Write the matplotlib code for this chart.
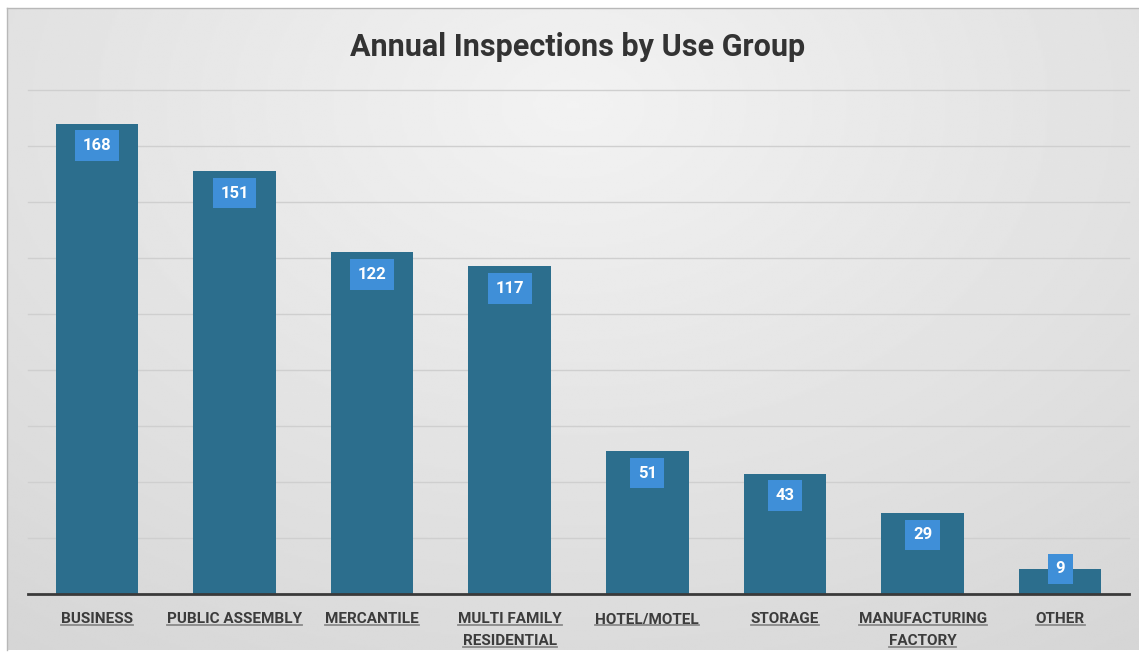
import matplotlib.pyplot as plt
import numpy as np
from matplotlib.lines import Line2D

categories = ["BUSINESS", "PUBLIC ASSEMBLY", "MERCANTILE", "MULTI FAMILY\nRESIDENTIAL",
              "HOTEL/MOTEL", "STORAGE", "MANUFACTURING\nFACTORY", "OTHER"]
inspections = [168, 151, 122, 117, 51, 43, 29, 9]
y_ticks = list(range(0, 181, 20))

W, H = 1139, 655
fig = plt.figure(figsize=(W / 100, H / 100), dpi=100)
fig.patch.set_facecolor("white")

# soft grey panel behind the chart, lighter towards the top middle
bg = fig.add_axes([7 / W, 5 / H, 1 - 7 / W, 1 - 13 / H])
yy, xx = np.mgrid[0:1:300j, 0:1:500j]
d = np.sqrt(((xx - 0.5) * 1.1) ** 2 + ((yy - 0.15) * 0.9) ** 2)
shade = 0.95 - 0.12 * d
bg.imshow(shade, cmap="gray", vmin=0, vmax=1, aspect="auto", extent=[0, 1, 0, 1], origin="upper")
bg.set_xticks([])
bg.set_yticks([])
for side, sp in bg.spines.items():
    sp.set_color("#b8b8b8")
    sp.set_linewidth(1)
    if side in ("right", "bottom"):
        sp.set_visible(False)

ax = fig.add_axes([28 / W, 61 / H, 1101 / W, 504 / H])
ax.set_facecolor("none")
x = np.arange(len(categories))
ax.bar(x, inspections, width=0.6, color="#2c6e8d", zorder=2)
ax.set_xlim(-0.5, len(categories) - 0.5)
ax.set_ylim(0, 180)
ax.set_yticks(y_ticks)
ax.yaxis.grid(True, color="#cfcfcf", linewidth=1, zorder=0)
for gl in ax.get_ygridlines():
    gl.set_clip_on(False)
ax.tick_params(left=False, bottom=False, labelleft=False, labelbottom=False)
for side in ("top", "left", "right"):
    ax.spines[side].set_visible(False)
ax.spines["bottom"].set_color("#3a3a3a")
ax.spines["bottom"].set_linewidth(2)
ax.spines["bottom"].set_zorder(3)

# value tags inside the top of each bar; short bars get the tag on their top edge
for xi, v in zip(x, inspections):
    off = -22 if v >= 20 else 0
    ax.annotate(str(v), (xi, v), xytext=(0, off), textcoords="offset pixels",
                ha="center", va="center", color="white", fontsize=12, fontweight="bold",
                family="Roboto", zorder=4,
                bbox=dict(boxstyle="square,pad=0.46", fc="#3f8fd8", ec="none"))

# category labels, one text per line so each can be underlined
label_lines = []
for xi, cat in zip(x, categories):
    for i, line in enumerate(cat.split("\n")):
        t = ax.annotate(line, (xi, 0), xytext=(0, -29 - 22 * i), textcoords="offset pixels",
                        ha="center", va="baseline", color="#3c3c3c", fontsize=11,
                        fontweight="bold", family="Roboto")
        label_lines.append(t)

fig.text(578 / W, 1 - 47 / H, "Annual Inspections by Use Group", ha="center", va="center",
         fontsize=22, fontweight="bold", color="#333333", family="Roboto")

fig.canvas.draw()
renderer = fig.canvas.get_renderer()
for t in label_lines:
    ext = t.get_window_extent(renderer)
    yb = ext.y0 + 1
    fig.add_artist(Line2D([ext.x0 / W, ext.x1 / W], [yb / H, yb / H],
                          color="#8a8a8a", linewidth=1.3, transform=fig.transFigure))

fig.savefig("out.png", dpi=100)
